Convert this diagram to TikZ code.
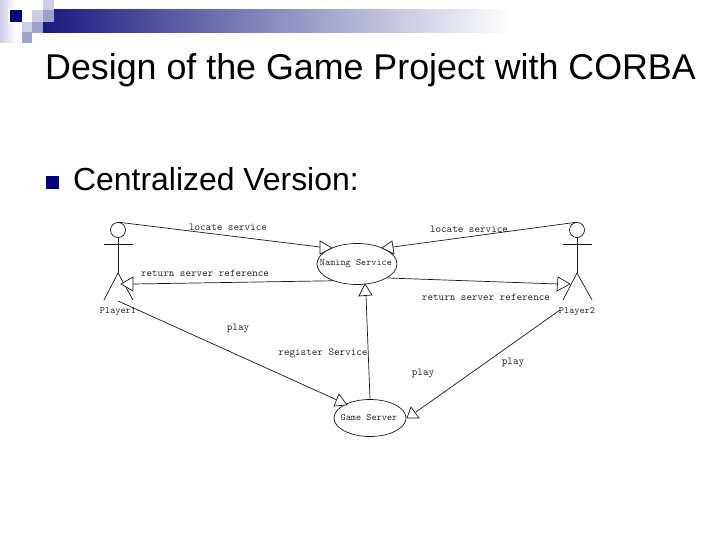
\documentclass[tikz,border=0pt]{standalone}
\usepackage{fontspec}
\setmainfont{Liberation Sans}
\usetikzlibrary{shapes.geometric}

\definecolor{barblue}{HTML}{1A1A80}
\definecolor{bargrey}{HTML}{A8A8BC}
\definecolor{deckblue}{HTML}{000080}
\definecolor{midblue}{HTML}{A0A0CC}
\definecolor{paleblue}{HTML}{CDCDE6}

\tikzset{
  umlline/.style={line width=0.7pt, black!90},
  umlcase/.style={draw, umlline, ellipse, inner sep=0pt, fill=white},
  umllabel/.style={font=\fontsize{10.6}{12}\ttfamily, text=black!85, inner sep=0pt},
  umlname/.style={font=\fontsize{9.8}{12}\ttfamily, text=black!85, inner sep=0pt},
  slidetext/.style={anchor=base west, inner sep=0pt, text=black}
}

\begin{document}
\begin{tikzpicture}[x=1pt, y=-1pt]
\useasboundingbox (0,0) rectangle (720,540);

% header
\shade[left color=paleblue, right color=white] (0,0) rectangle (16,43);
\fill[white] (8,8) rectangle (24,24);
\shade[left color=barblue, middle color=bargrey, right color=white] (43,10) rectangle (510,33);
\fill[white] (43,10) rectangle (54,22);
\fill[deckblue] (10,10) rectangle (22,22);
\fill[paleblue] (32,10) rectangle (43,22);
\fill[paleblue] (43,0) rectangle (54,10);
\fill[midblue] (43,10) rectangle (54,22);
\fill[paleblue] (22,22) rectangle (32,32);
\fill[midblue] (32,22) rectangle (43,33);
\fill[midblue] (22,32) rectangle (32,43);

\node[slidetext, font=\fontsize{35.8}{40}\selectfont] (title) at (45,80) {Design of the Game Project with CORBA};
\fill[deckblue] (46,176) rectangle (59,189);
\node[slidetext, font=\fontsize{31.9}{36}\selectfont] (sub) at (73,191) {Centralized Version:};

% the two services
\node[umlcase, minimum width=80pt, minimum height=41pt] (naming) at (357,264) {};
\node[umlcase, minimum width=72pt, minimum height=37pt] (game) at (370,418) {};
\node[umlname] (namingtext) at (356,264) {Naming Service};
\node[umlname] (gametext) at (369,418) {Game Server};

% actors
\foreach \p/\x/\n in {p1/118/Player1, p2/577/Player2} {
  \node[draw, umlline, circle, inner sep=0pt, minimum size=15pt] (\p head) at (\x,230) {};
  \coordinate (\p hip) at (\x,273);
  \draw[umlline] (\p head)--(\p hip);
  \draw[umlline] (\x-14,244)--(\x+15,244);
  \draw[umlline] (\x-14,300)--(\p hip)--(\x+15,300);
  \node[umlname] (\p name) at (\x,312) {\n};
}

\coordinate (p1foot) at (118,301);
\coordinate (p2foot) at (560,310);

\coordinate (t1) at (320,247);
\coordinate (t2) at (133,284);
\coordinate (t3) at (393,247);
\coordinate (t4) at (558,284);
\coordinate (t5) at (366,295);
\coordinate (t6) at (337,400);
\coordinate (t7) at (416,412);

\draw[umlline] (p1head.north)--(t1);
\draw[umlline] (naming.215)--(t2);
\draw[umlline] (p2head.north)--(t3);
\draw[umlline] (naming.335)--(t4);
\draw[umlline] (game.north)--(t5);
\draw[umlline] (p1foot)--(t6);
\draw[umlline] (p2foot)--(t7);

% open triangles
\draw[umlline, fill=white] (320,241)--(332,248)--(320,254)--cycle;
\draw[umlline, fill=white] (121,284)--(133,277)--(133,291)--cycle;
\draw[umlline, fill=white] (382,248)--(392,241)--(394,254)--cycle;
\draw[umlline, fill=white] (558,277)--(570,284)--(557,291)--cycle;
\draw[umlline, fill=white] (365,284)--(359,296)--(372,295)--cycle;
\draw[umlline, fill=white] (339,394)--(334,406)--(347,405)--cycle;
\draw[umlline, fill=white] (411,407)--(407,418)--(419,418)--cycle;

\node[umllabel] (locateone) at (228,227) {locate service};
\node[umllabel] (returnone) at (205,273) {return server reference};
\node[umllabel] (playone) at (238,328) {play};
\node[umllabel] (locatetwo) at (469,229) {locate service};
\node[umllabel] (returntwo) at (486,297) {return server reference};
\node[umllabel] (register) at (323,353) {register Service};
\node[umllabel] (playtwo) at (423,373) {play};
\node[umllabel] (playthree) at (513,362) {play};

\end{tikzpicture}
\end{document}
